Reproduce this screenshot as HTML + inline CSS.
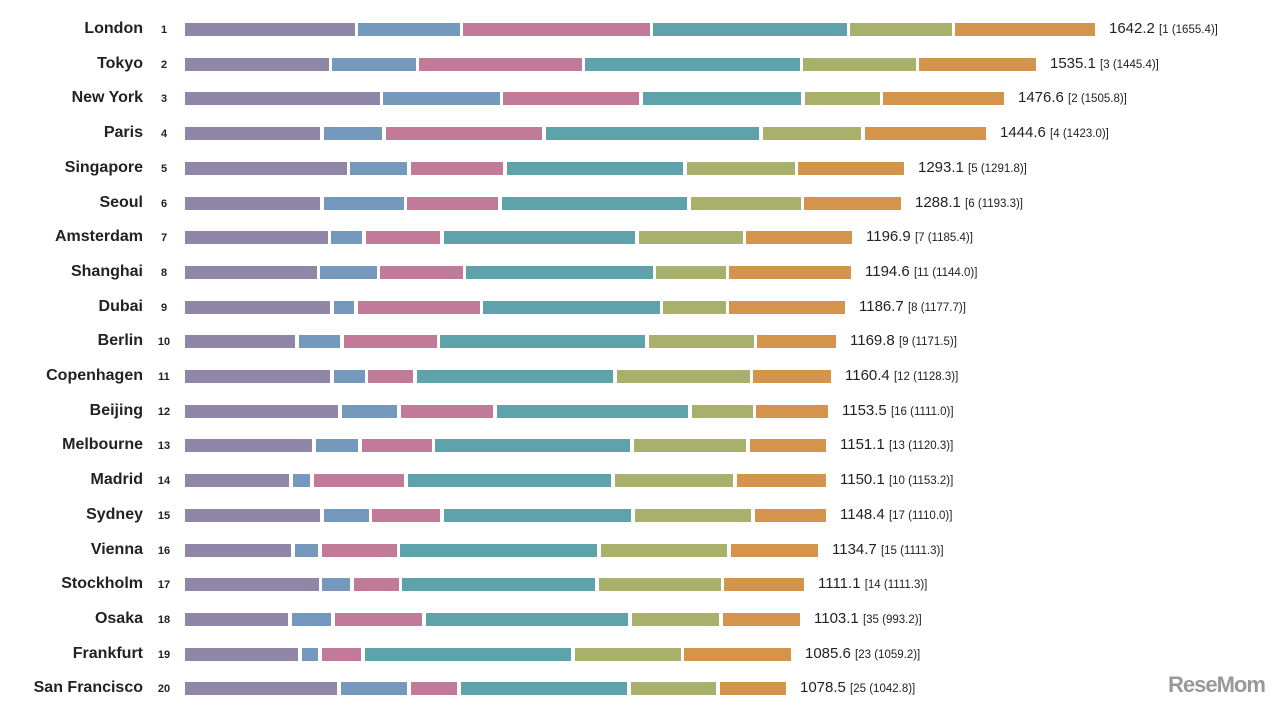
<!DOCTYPE html>
<html><head><meta charset="utf-8"><style>
body{margin:0;width:1280px;height:708px;background:#fff;position:relative;overflow:hidden;font-family:"Liberation Sans",sans-serif;color:#222}
.r{position:absolute;left:0;width:1280px;height:34px}
.n{position:absolute;right:1137px;top:-2px;font-weight:bold;font-size:16px;white-space:nowrap}
.k{position:absolute;left:150px;width:28px;text-align:center;top:2px;font-weight:bold;font-size:11px}
.s{position:absolute;top:1px;height:13px}
.a{background:#8f86a8}.b{background:#7598bd}.c{background:#c17a98}.d{background:#5ea3ab}.e{background:#a9b06b}.f{background:#d5944c}
.v{position:absolute;top:-2px;font-size:15px;white-space:nowrap}
.v small{font-size:11.5px}
</style></head><body>
<div id="c"></div>
<script>
var D=[
["London",1,[185,355,358,460,463,650,653,847,850,952,955,1095],"1642.2","[1 (1655.4)]"],
["Tokyo",2,[185,329,332,416,419,582,585,800,803,916,919,1036],"1535.1","[3 (1445.4)]"],
["New York",3,[185,380,383,500,503,639,643,801,805,880,883,1004],"1476.6","[2 (1505.8)]"],
["Paris",4,[185,320,324,382,386,542,546,759,763,861,865,986],"1444.6","[4 (1423.0)]"],
["Singapore",5,[185,347,350,407,411,503,507,683,687,795,798,904],"1293.1","[5 (1291.8)]"],
["Seoul",6,[185,320,324,404,407,498,502,687,691,801,804,901],"1288.1","[6 (1193.3)]"],
["Amsterdam",7,[185,328,331,362,366,440,444,635,639,743,746,852],"1196.9","[7 (1185.4)]"],
["Shanghai",8,[185,317,320,377,380,463,466,653,656,726,729,851],"1194.6","[11 (1144.0)]"],
["Dubai",9,[185,330,334,354,358,480,483,660,663,726,729,845],"1186.7","[8 (1177.7)]"],
["Berlin",10,[185,295,299,340,344,437,440,645,649,754,757,836],"1169.8","[9 (1171.5)]"],
["Copenhagen",11,[185,330,334,365,368,413,417,613,617,750,753,831],"1160.4","[12 (1128.3)]"],
["Beijing",12,[185,338,342,397,401,493,497,688,692,753,756,828],"1153.5","[16 (1111.0)]"],
["Melbourne",13,[185,312,316,358,362,432,435,630,634,746,750,826],"1151.1","[13 (1120.3)]"],
["Madrid",14,[185,289,293,310,314,404,408,611,615,733,737,826],"1150.1","[10 (1153.2)]"],
["Sydney",15,[185,320,324,369,372,440,444,631,635,751,755,826],"1148.4","[17 (1110.0)]"],
["Vienna",16,[185,291,295,318,322,397,400,597,601,727,731,818],"1134.7","[15 (1111.3)]"],
["Stockholm",17,[185,319,322,350,354,399,402,595,599,721,724,804],"1111.1","[14 (1111.3)]"],
["Osaka",18,[185,288,292,331,335,422,426,628,632,719,723,800],"1103.1","[35 (993.2)]"],
["Frankfurt",19,[185,298,302,318,322,361,365,571,575,681,684,791],"1085.6","[23 (1059.2)]"],
["San Francisco",20,[185,337,341,407,411,457,461,627,631,716,720,786],"1078.5","[25 (1042.8)]"]];
var h="",cl="abcdef";
D.forEach(function(d,i){var t=22+i*34.7;h+='<div class="r" style="top:'+t+'px"><div class="n">'+d[0]+'</div><div class="k">'+d[1]+'</div>';
for(var j=0;j<6;j++){h+='<div class="s '+cl[j]+'" style="left:'+d[2][2*j]+'px;width:'+(d[2][2*j+1]-d[2][2*j])+'px"></div>';}
h+='<div class="v" style="left:'+(d[2][11]+14)+'px">'+d[3]+' <small>'+d[4]+'</small></div></div>';});
document.getElementById("c").innerHTML=h;
</script>
<div style="position:absolute;left:1168px;top:672px;font-size:22px;font-weight:bold;color:#999;letter-spacing:-1px">ReseMom</div>
</body></html>
